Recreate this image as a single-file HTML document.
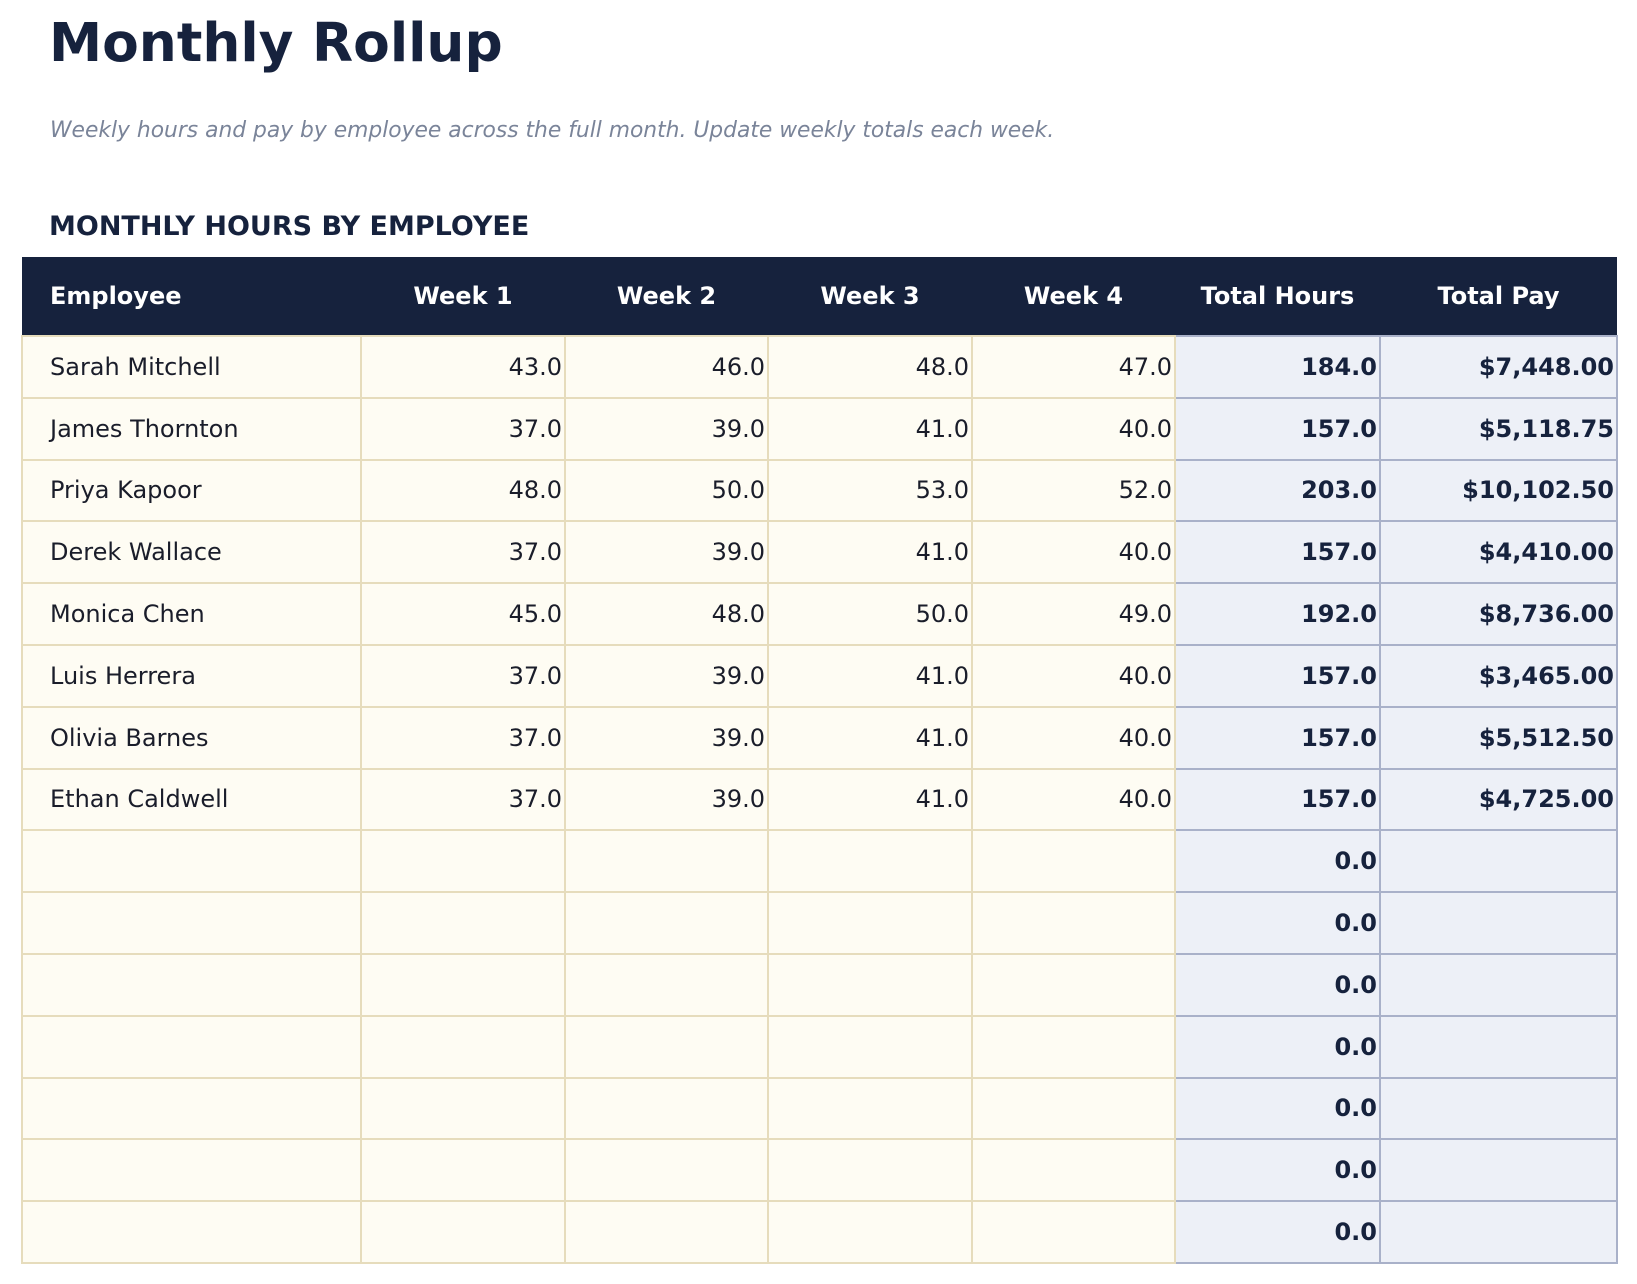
<!DOCTYPE html>
<html><head><meta charset="utf-8"><style>
body{margin:0;width:1637px;height:1284px;background:#fff;font-family:"DejaVu Sans","Liberation Sans",sans-serif;position:relative;overflow:hidden}
.t{position:absolute;left:49px;top:11px;font-size:53.4px;font-weight:bold;color:#16223d}
.s{position:absolute;left:50px;top:118px;font-size:21.8px;font-style:italic;color:#7a8499}
.h{position:absolute;left:49px;top:211px;font-size:27px;font-weight:bold;color:#16223d}
table{position:absolute;left:21px;top:257px;border-collapse:collapse;table-layout:fixed;width:1595px}
th{background:#16223d;color:#fff;font-size:24px;font-weight:bold;height:78px;padding:0;text-align:center}
th:first-child{text-align:left;padding-left:28px}
td{height:59.8px;padding:0 2px 0 0;font-size:24px;color:#1a1d2a;background:#fefcf3;border:2px solid #e6dcbc;text-align:right}
td:first-child{text-align:left;padding-left:27px}
td.x{background:#edf0f7;border:2px solid #a9b1c9;font-weight:bold;color:#16223d}
</style></head><body>
<div class="t">Monthly Rollup</div>
<div class="s">Weekly hours and pay by employee across the full month. Update weekly totals each week.</div>
<div class="h">MONTHLY HOURS BY EMPLOYEE</div>
<table>
<colgroup><col style="width:339px"><col style="width:204px"><col style="width:203px"><col style="width:204px"><col style="width:203px"><col style="width:205px"><col style="width:237px"></colgroup>
<tr><th>Employee</th><th>Week 1</th><th>Week 2</th><th>Week 3</th><th>Week 4</th><th>Total Hours</th><th>Total Pay</th></tr>
<tr><td>Sarah Mitchell</td><td>43.0</td><td>46.0</td><td>48.0</td><td>47.0</td><td class="x">184.0</td><td class="x">$7,448.00</td></tr>
<tr><td>James Thornton</td><td>37.0</td><td>39.0</td><td>41.0</td><td>40.0</td><td class="x">157.0</td><td class="x">$5,118.75</td></tr>
<tr><td>Priya Kapoor</td><td>48.0</td><td>50.0</td><td>53.0</td><td>52.0</td><td class="x">203.0</td><td class="x">$10,102.50</td></tr>
<tr><td>Derek Wallace</td><td>37.0</td><td>39.0</td><td>41.0</td><td>40.0</td><td class="x">157.0</td><td class="x">$4,410.00</td></tr>
<tr><td>Monica Chen</td><td>45.0</td><td>48.0</td><td>50.0</td><td>49.0</td><td class="x">192.0</td><td class="x">$8,736.00</td></tr>
<tr><td>Luis Herrera</td><td>37.0</td><td>39.0</td><td>41.0</td><td>40.0</td><td class="x">157.0</td><td class="x">$3,465.00</td></tr>
<tr><td>Olivia Barnes</td><td>37.0</td><td>39.0</td><td>41.0</td><td>40.0</td><td class="x">157.0</td><td class="x">$5,512.50</td></tr>
<tr><td>Ethan Caldwell</td><td>37.0</td><td>39.0</td><td>41.0</td><td>40.0</td><td class="x">157.0</td><td class="x">$4,725.00</td></tr>
<tr><td></td><td></td><td></td><td></td><td></td><td class="x">0.0</td><td class="x"></td></tr>
<tr><td></td><td></td><td></td><td></td><td></td><td class="x">0.0</td><td class="x"></td></tr>
<tr><td></td><td></td><td></td><td></td><td></td><td class="x">0.0</td><td class="x"></td></tr>
<tr><td></td><td></td><td></td><td></td><td></td><td class="x">0.0</td><td class="x"></td></tr>
<tr><td></td><td></td><td></td><td></td><td></td><td class="x">0.0</td><td class="x"></td></tr>
<tr><td></td><td></td><td></td><td></td><td></td><td class="x">0.0</td><td class="x"></td></tr>
<tr><td></td><td></td><td></td><td></td><td></td><td class="x">0.0</td><td class="x"></td></tr>
</table>
</body></html>
